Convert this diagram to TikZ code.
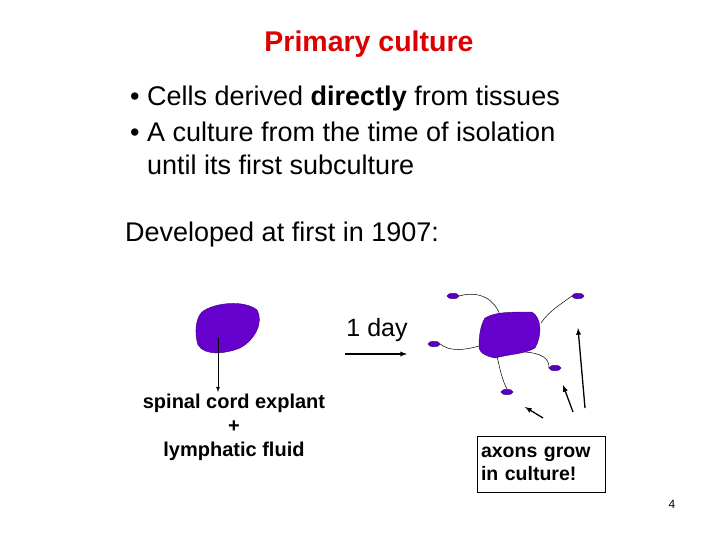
\documentclass[tikz,border=0pt]{standalone}
\usepackage{fontspec}
\setmainfont{Liberation Sans}
\usetikzlibrary{shapes.geometric}
\begin{document}
\begin{tikzpicture}[x=1pt,y=-1pt,
  blob/.style={fill={rgb,255:red,102;green,0;blue,204},draw={rgb,255:red,60;green,0;blue,120},line width=0.4pt},
  dot/.style={ellipse,fill={rgb,255:red,90;green,0;blue,190},draw={rgb,255:red,60;green,0;blue,120},inner sep=0pt,minimum width=12pt,minimum height=5.5pt},
  axon/.style={line width=0.5pt},
  arr/.style={-latex,line width=1.3pt},
  txt/.style={font=\fontsize{27}{30}\selectfont,anchor=west,inner sep=0pt}]
\useasboundingbox (0,0) rectangle (720,540);
\node[font=\bfseries\fontsize{28.5}{30}\selectfont,text={rgb,255:red,220;green,0;blue,0}] (title) at (369,44) {Primary culture};
\node[txt] (b1) at (130,99) {\textbullet\ Cells derived \textbf{directly} from tissues};
\node[txt] (b2) at (130,132) {\textbullet\ A culture from the time of isolation};
\node[txt] (b3) at (147,165) {until its first subculture};
\node[txt] (dev) at (125,235) {Developed at first in 1907:};
% left blob
\draw[blob] (202,312) .. controls (215,302) and (245,300) .. (257,310) .. controls (264,322) and (255,340) .. (240,348) .. controls (225,354) and (205,356) .. (198,345) .. controls (194,332) and (196,318) .. (202,312) -- cycle;
\coordinate (la) at (218,338);
\node[font=\bfseries\fontsize{20}{24}\selectfont,align=center,inner sep=0pt] (lab) at (234,427) {spinal cord explant\\+\\lymphatic fluid};
\draw[-latex,line width=0.8pt] (la) -- (218,392);
% 1 day
\node[font=\fontsize{25}{28}\selectfont] (day) at (377,330) {1 day};
\coordinate (d1) at (345,354); \coordinate (d2) at (407,354);
\draw[-latex,line width=1.3pt] (d1) -- (d2);
% right cell
\node[dot] (n1) at (453,296) {};
\node[dot] (n2) at (578,296) {};
\node[dot] (n3) at (434,344) {};
\node[dot] (n4) at (555,368) {};
\node[dot] (n5) at (507,392) {};
\draw[axon] (n1.east) .. controls (480,290) and (495,300) .. (500,315);
\draw[axon] (n2.west) .. controls (560,305) and (550,310) .. (541,323);
\draw[axon] (n3.east) .. controls (450,352) and (465,350) .. (479,346);
\draw[axon] (n4.west) .. controls (550,358) and (540,353) .. (525,352);
\draw[axon] (n5.north) .. controls (502,380) and (499,365) .. (497,356);
\draw[blob] (485,318) .. controls (495,312) and (510,312) .. (532,312) .. controls (542,318) and (542,336) .. (535,348) .. controls (525,354) and (510,354) .. (495,358) .. controls (485,356) and (478,352) .. (479,345) .. controls (479,335) and (481,324) .. (485,318) -- cycle;
\coordinate (a1s) at (543,418); \coordinate (a1e) at (525,407);
\coordinate (a2s) at (573,412); \coordinate (a2e) at (563,385);
\coordinate (a3s) at (585,408); \coordinate (a3e) at (578,328);
\draw[arr] (a1s) -- (a1e);
\draw[arr] (a2s) -- (a2e);
\draw[arr] (a3s) -- (a3e);
\node[draw,line width=0.6pt,font=\bfseries\fontsize{19.5}{23}\selectfont,align=left,minimum width=128pt,minimum height=56pt,text width=120pt,inner sep=4pt] (box) at (541,464) {axons grow\\in culture!};
\node[font=\fontsize{12}{14}\selectfont] (pg) at (672,504) {4};
\end{tikzpicture}
\end{document}
